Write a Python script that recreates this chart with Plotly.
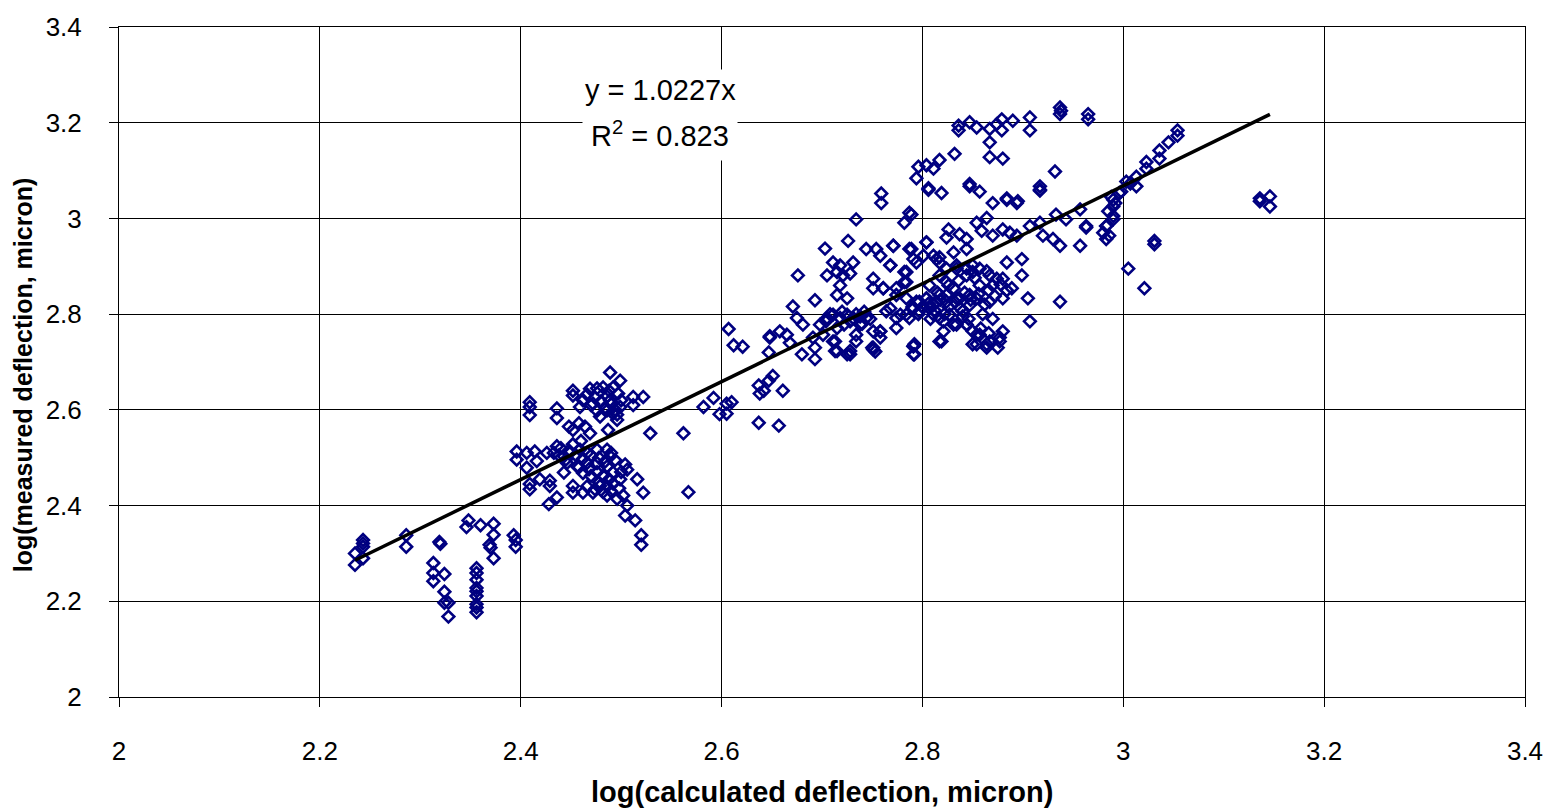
import plotly.graph_objects as go

# log(calculated deflection) / log(measured deflection), by cluster
x_low = [2.243, 2.243, 2.243, 2.235, 2.243, 2.235, 2.286, 2.286, 2.319, 2.320,
         2.313, 2.313, 2.313, 2.324, 2.324, 2.324, 2.328, 2.328,
         2.356, 2.356, 2.356, 2.356, 2.356, 2.356, 2.356, 2.356, 2.356,
         2.348, 2.346, 2.360, 2.373, 2.373, 2.369, 2.373, 2.370, 2.393, 2.395, 2.395]
y_low = [2.328, 2.321, 2.314, 2.300, 2.290, 2.276, 2.338, 2.314, 2.324, 2.320,
         2.280, 2.259, 2.242, 2.257, 2.220, 2.197, 2.197, 2.168,
         2.269, 2.259, 2.245, 2.228, 2.221, 2.211, 2.194, 2.187, 2.177,
         2.369, 2.355, 2.359, 2.362, 2.339, 2.318, 2.290, 2.312, 2.338, 2.328, 2.314]

x_left = [2.409, 2.409, 2.409, 2.436, 2.436, 2.452, 2.452, 2.469, 2.462, 2.472, 2.459,
          2.489, 2.499, 2.482, 2.492, 2.497, 2.489, 2.499, 2.492, 2.479, 2.486, 2.496,
          2.512, 2.522, 2.512, 2.452, 2.469, 2.487, 2.529, 2.562, 2.567,
          2.396, 2.396, 2.406, 2.414, 2.406, 2.416, 2.426, 2.436, 2.433, 2.443, 2.449,
          2.459, 2.466, 2.476, 2.486, 2.489, 2.446, 2.456, 2.466, 2.476, 2.486, 2.492,
          2.499, 2.506, 2.516, 2.409, 2.409, 2.419, 2.429, 2.429, 2.443, 2.452, 2.452,
          2.462, 2.472, 2.479, 2.486, 2.496, 2.502, 2.506, 2.522, 2.428, 2.436, 2.504,
          2.514, 2.520, 2.520,
          2.440, 2.448, 2.455, 2.462, 2.470, 2.478, 2.484, 2.490, 2.494, 2.458, 2.468,
          2.476, 2.482, 2.488, 2.470, 2.462, 2.478, 2.486, 2.492, 2.498, 2.466, 2.474,
          2.482, 2.490, 2.500, 2.504, 2.452, 2.460, 2.438, 2.445,
          2.466, 2.474, 2.480, 2.486, 2.490, 2.494, 2.484, 2.476, 2.470, 2.458, 2.464,
          2.448, 2.496, 2.500, 2.488, 2.476]
y_left = [2.616, 2.606, 2.589, 2.603, 2.583, 2.640, 2.630, 2.644, 2.620, 2.613, 2.606,
          2.678, 2.661, 2.647, 2.647, 2.634, 2.620, 2.606, 2.592, 2.586, 2.599, 2.579,
          2.627, 2.627, 2.610, 2.558, 2.551, 2.558, 2.551, 2.551, 2.428,
          2.513, 2.496, 2.510, 2.513, 2.479, 2.493, 2.510, 2.524, 2.510, 2.503, 2.510,
          2.517, 2.510, 2.517, 2.517, 2.503, 2.489, 2.482, 2.489, 2.489, 2.482, 2.469,
          2.455, 2.475, 2.455, 2.445, 2.434, 2.455, 2.452, 2.441, 2.469, 2.441, 2.427,
          2.427, 2.427, 2.441, 2.421, 2.414, 2.421, 2.400, 2.427, 2.403, 2.417, 2.379,
          2.369, 2.338, 2.318,
          2.520, 2.515, 2.505, 2.498, 2.505, 2.500, 2.492, 2.510, 2.495, 2.480, 2.476,
          2.470, 2.462, 2.455, 2.462, 2.468, 2.448, 2.440, 2.446, 2.436, 2.440, 2.434,
          2.428, 2.430, 2.470, 2.486, 2.528, 2.535, 2.505, 2.496,
          2.632, 2.626, 2.618, 2.628, 2.612, 2.600, 2.605, 2.598, 2.610, 2.572, 2.565,
          2.565, 2.590, 2.620, 2.640, 2.645]

x_mid = [2.607, 2.612, 2.621, 2.582, 2.592, 2.598, 2.605, 2.610, 2.605, 2.637, 2.657,
         2.637, 2.642, 2.647, 2.651, 2.661, 2.638, 2.647, 2.648, 2.658, 2.665, 2.668,
         2.680, 2.693, 2.693, 2.648, 2.671, 2.675, 2.681, 2.693, 2.676,
         2.698, 2.705, 2.711, 2.718, 2.725, 2.731, 2.738, 2.715, 2.701, 2.691, 2.738,
         2.744, 2.711, 2.715, 2.725, 2.728, 2.734, 2.734, 2.751, 2.758, 2.751, 2.753,
         2.750, 2.791, 2.791, 2.704, 2.708, 2.720, 2.728, 2.734, 2.742, 2.748, 2.722,
         2.740, 2.713, 2.713, 2.728, 2.751, 2.792, 2.792]
y_mid = [2.769, 2.735, 2.732, 2.606, 2.625, 2.591, 2.592, 2.616, 2.613, 2.573, 2.567,
         2.651, 2.640, 2.661, 2.671, 2.640, 2.634, 2.720, 2.754, 2.764, 2.757, 2.740,
         2.716, 2.706, 2.730, 2.751, 2.816, 2.792, 2.778, 2.829, 2.881,
         2.778, 2.792, 2.799, 2.792, 2.799, 2.792, 2.795, 2.771, 2.757, 2.751, 2.778,
         2.792, 2.743, 2.723, 2.716, 2.723, 2.743, 2.757, 2.764, 2.764, 2.726, 2.722,
         2.730, 2.733, 2.716, 2.785, 2.800, 2.805, 2.785, 2.800, 2.805, 2.790, 2.778,
         2.780, 2.743, 2.723, 2.716, 2.730, 2.737, 2.716]

x_up = [2.703, 2.726, 2.744, 2.754, 2.758, 2.771, 2.787, 2.804, 2.824, 2.711, 2.718,
        2.731, 2.705, 2.715, 2.721, 2.728, 2.718, 2.715, 2.725, 2.751, 2.751, 2.761,
        2.768, 2.784, 2.784, 2.774, 2.791, 2.794, 2.734, 2.787, 2.782, 2.789, 2.759,
        2.759]
y_up = [2.937, 2.953, 2.936, 2.936, 2.922, 2.943, 2.936, 2.950, 2.960, 2.908, 2.902,
        2.908, 2.881, 2.888, 2.881, 2.885, 2.860, 2.840, 2.833, 2.874, 2.854, 2.854,
        2.902, 2.888, 2.867, 2.854, 2.915, 2.908, 2.998, 3.012, 2.991, 3.008, 3.052,
        3.032]

x_main = [2.764, 2.774, 2.784, 2.791, 2.797, 2.804, 2.811, 2.817, 2.824, 2.834, 2.840,
          2.847, 2.854, 2.811, 2.821, 2.831, 2.844, 2.854, 2.850, 2.817, 2.807, 2.817,
          2.824, 2.834, 2.844, 2.850, 2.814, 2.831, 2.844, 2.771, 2.789, 2.768, 2.761,
          2.782, 2.782, 2.804, 2.801, 2.817, 2.826, 2.837, 2.844, 2.854, 2.864, 2.859,
          2.870, 2.880, 2.887, 2.894, 2.907, 2.917, 2.920, 2.933, 2.943, 2.957, 2.963,
          2.983, 2.986, 2.937, 2.957, 2.930, 2.899, 2.899, 2.884,
          2.811, 2.817, 2.824, 2.834, 2.844, 2.850, 2.857, 2.867, 2.874, 2.880, 2.889,
          2.870, 2.857, 2.847, 2.837, 2.831, 2.824, 2.814, 2.804, 2.794, 2.784, 2.774,
          2.768, 2.778, 2.787, 2.797, 2.807, 2.817, 2.827, 2.834, 2.844, 2.821, 2.819,
          2.791, 2.850, 2.857, 2.854, 2.867, 2.867, 2.880, 2.905, 2.937, 2.907, 2.877,
          2.875, 2.864, 2.758, 2.758, 2.774, 2.864, 2.877, 2.880, 2.963,
          2.800, 2.806, 2.812, 2.818, 2.826, 2.832, 2.838, 2.842, 2.848, 2.856, 2.862,
          2.866, 2.872, 2.878, 2.884, 2.826, 2.836, 2.852, 2.864, 2.815, 2.796, 2.790,
          2.808, 2.822, 2.840, 2.846, 2.860, 2.870, 2.858, 2.866]
y_main = [2.806, 2.792, 2.799, 2.812, 2.826, 2.833, 2.819, 2.840, 2.826, 2.833, 2.806,
          2.819, 2.833, 2.799, 2.785, 2.778, 2.778, 2.757, 2.737, 2.743, 2.860, 2.881,
          2.867, 2.895, 2.881, 2.902, 2.915, 2.929, 2.936, 2.943, 2.936, 2.902, 2.854,
          2.888, 2.867, 2.950, 2.922, 2.919, 2.977, 2.967, 2.957, 2.991, 3.001, 2.974,
          2.964, 2.977, 2.970, 2.964, 2.984, 2.991, 2.964, 3.008, 2.998, 3.019, 2.984,
          2.984, 2.964, 2.943, 2.943, 2.957, 2.915, 2.881, 2.908,
          2.922, 2.908, 2.895, 2.902, 2.895, 2.888, 2.895, 2.881, 2.874, 2.874, 2.854,
          2.860, 2.860, 2.840, 2.833, 2.854, 2.840, 2.826, 2.833, 2.826, 2.833, 2.840,
          2.812, 2.799, 2.792, 2.806, 2.812, 2.792, 2.799, 2.778, 2.778, 2.764, 2.743,
          2.733, 2.764, 2.757, 2.737, 2.743, 2.826, 2.833, 2.833, 2.826, 2.785, 2.743,
          2.730, 2.730, 2.764, 2.751, 2.771, 2.737, 2.751, 2.764, 2.981,
          2.815, 2.822, 2.808, 2.830, 2.815, 2.826, 2.812, 2.845, 2.830, 2.842, 2.820,
          2.850, 2.838, 2.862, 2.850, 2.860, 2.870, 2.876, 2.890, 2.845, 2.800, 2.815,
          2.790, 2.800, 2.795, 2.790, 2.800, 2.790, 2.770, 2.760]

x_top = [2.806, 2.819, 2.847, 2.857, 2.870, 2.884, 2.894, 2.917, 2.836, 2.836, 2.847,
         2.854, 2.867, 2.874, 2.879, 2.879, 2.890, 2.907, 2.907, 2.937, 2.937, 2.938,
         2.965, 2.965, 2.867, 2.867, 2.880, 2.832, 2.817, 2.796, 2.804, 2.811, 2.794,
         2.806, 2.847, 2.884, 2.895, 2.917, 2.917, 2.932]
y_top = [3.060, 3.053, 3.067, 3.056, 3.032, 3.039, 3.032, 3.060, 3.194, 3.184, 3.201,
         3.190, 3.187, 3.197, 3.207, 3.184, 3.204, 3.211, 3.184, 3.232, 3.218, 3.225,
         3.218, 3.207, 3.159, 3.128, 3.125, 3.135, 3.122, 3.108, 3.111, 3.104, 3.084,
         3.063, 3.072, 3.042, 3.036, 3.067, 3.058, 3.098]

x_right = [3.054, 3.054, 3.045, 3.036, 3.036, 3.023, 3.023, 3.013, 3.013, 3.003, 2.998,
           2.990, 2.990, 2.985, 2.990, 2.983, 2.980, 2.983, 3.031, 3.031, 3.005, 3.021,
           3.136, 3.146, 3.136, 3.146, 2.990, 2.996, 3.007, 2.992, 2.988]
y_right = [3.184, 3.173, 3.159, 3.142, 3.125, 3.118, 3.104, 3.087, 3.067, 3.077, 3.056,
           3.039, 3.025, 3.015, 2.998, 2.984, 2.970, 2.957, 2.953, 2.946, 2.895, 2.854,
           3.042, 3.046, 3.036, 3.025, 3.005, 3.053, 3.073, 3.032, 3.045]

slope = 1.0227
r2 = 0.823
tick_vals = [2, 2.2, 2.4, 2.6, 2.8, 3, 3.2, 3.4]
tick_text = ["2", "2.2", "2.4", "2.6", "2.8", "3", "3.2", "3.4"]

xs = x_low + x_left + x_mid + x_up + x_main + x_top + x_right
ys = y_low + y_left + y_mid + y_up + y_main + y_top + y_right

FONT = "Liberation Sans, Arial, sans-serif"
NAVY = "#000080"

fig = go.Figure()
fig.add_trace(go.Scatter(
    x=xs, y=ys, mode="markers",
    marker=dict(symbol="diamond-open", size=9, color=NAVY, line=dict(color=NAVY, width=2.6)),
    showlegend=False, hoverinfo="x+y"))

x0, x1 = min(xs), max(xs)
fig.add_trace(go.Scatter(
    x=[x0, x1], y=[slope * x0, slope * x1], mode="lines",
    line=dict(color="black", width=3.5), showlegend=False, hoverinfo="skip"))

axis_common = dict(
    range=[2, 3.4], tickvals=tick_vals, ticktext=tick_text,
    showgrid=True, gridcolor="black", gridwidth=1,
    showline=True, linecolor="black", linewidth=1, mirror=True,
    ticks="outside", ticklen=9, tickcolor="black", tickwidth=1,
    zeroline=False, ticklabeloverflow="allow",
    tickfont=dict(family=FONT, size=26, color="black"),
)

fig.update_layout(
    width=1558, height=812,
    margin=dict(l=119, r=33, t=18, b=115),
    paper_bgcolor="white", plot_bgcolor="white",
    xaxis=dict(**axis_common, ticklabelstandoff=22),
    yaxis=dict(**axis_common, ticklabelstandoff=22),
    font=dict(family=FONT, color="black"),
    annotations=[
        dict(x=2.539, y=3.2687, xref="x", yref="y",
             text=f"y = {slope}x", borderpad=4,
             showarrow=False, bgcolor="white", align="center",
             font=dict(family=FONT, size=29, color="black")),
        dict(x=2.539, y=3.176, xref="x", yref="y",
             text=f"R<sup>2</sup> = {r2}", borderpad=8,
             showarrow=False, bgcolor="white", align="center",
             font=dict(family=FONT, size=29, color="black")),
        dict(x=0.5, y=-0.168, xref="paper", yref="paper",
             text="<b>log(calculated deflection, micron)</b>", showarrow=False,
             font=dict(family=FONT, size=29, color="black")),
        dict(x=-0.08, y=0.481, xref="paper", yref="paper", textangle=-90,
             text="<b>log(measured deflection, micron)</b>", showarrow=False,
             font=dict(family=FONT, size=25, color="black")),
    ],
)

fig.write_html("out.html", post_script="document.body.style.margin='0';")
